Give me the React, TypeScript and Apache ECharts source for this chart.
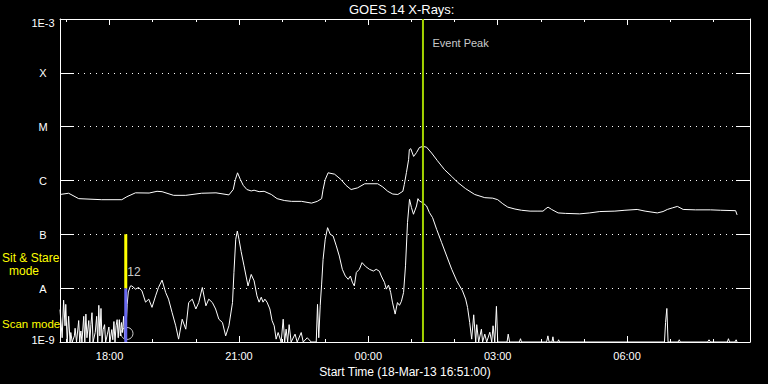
import React, { useEffect, useRef } from "react";
import * as echarts from "echarts";

// Time axis: minutes since the start time 18-Mar-13 16:51:00
const START_MINUTE_OF_DAY = 16 * 60 + 51;
const SPAN_MINUTES = 960;
const majorTickMinutes = [69, 249, 429, 609, 789];
const minorTickMinutes = [9, 69, 129, 189, 249, 309, 369, 429, 489, 549, 609, 669, 729, 789, 849, 909];
const classLabels = ["1E-9", "A", "B", "C", "M", "X", "1E-3"];

// 1-8 Angstrom channel (upper curve), W/m^2
const longTimes = [
  0, 12, 26, 58, 86, 93, 105, 124, 135, 142, 158, 175, 197, 217, 235, 241, 244, 247, 251, 255,
  260, 266, 270, 277, 284, 294, 302, 312, 322, 336, 350, 358, 364, 366, 369, 373, 382, 391, 398, 405,
  414, 424, 442, 449, 456, 463, 470, 477, 479, 482, 485, 486, 488, 492, 496, 500, 505, 510, 517, 525,
  535, 545, 553, 564, 577, 591, 602, 609, 616, 623, 633, 642, 654, 665, 672, 676, 679, 684, 693, 703,
  723, 737, 751, 772, 786, 803, 814, 831, 839, 845, 852, 859, 867, 884, 905, 919, 940, 942,
];
const longFlux = [
  5.5e-7, 5.8e-7, 4.6e-7, 4.4e-7, 4.4e-7, 5.0e-7, 5.9e-7, 5.85e-7, 6.3e-7, 6.2e-7, 5.3e-7, 5.3e-7, 5.8e-7, 5.9e-7, 5.4e-7, 6.8e-7, 1.04e-6, 1.39e-6, 1.04e-6, 8.1e-7,
  6.8e-7, 6.4e-7, 6.6e-7, 6.2e-7, 6.3e-7, 5.5e-7, 4.6e-7, 4.25e-7, 4.1e-7, 4.1e-7, 3.8e-7, 4.1e-7, 4.6e-7, 6.8e-7, 1.04e-6, 1.39e-6, 1.31e-6, 1.04e-6, 8.1e-7, 6.8e-7,
  7.3e-7, 8.7e-7, 8.7e-7, 7.6e-7, 6.3e-7, 5.6e-7, 5.5e-7, 6.3e-7, 8.4e-7, 1.41e-6, 2.44e-6, 3.74e-6, 3.9e-6, 2.8e-6, 3.3e-6, 4.1e-6, 4.3e-6, 4.16e-6, 3.24e-6, 2.34e-6,
  1.59e-6, 1.19e-6, 9.3e-7, 7.1e-7, 5.5e-7, 4.8e-7, 4.7e-7, 4.4e-7, 3.7e-7, 3.2e-7, 2.95e-7, 2.8e-7, 2.7e-7, 2.7e-7, 2.7e-7, 3.0e-7, 3.2e-7, 2.9e-7, 2.5e-7, 2.45e-7,
  2.4e-7, 2.5e-7, 2.65e-7, 2.7e-7, 2.8e-7, 2.9e-7, 2.7e-7, 2.5e-7, 2.65e-7, 2.9e-7, 3.1e-7, 3.3e-7, 2.9e-7, 2.85e-7, 2.85e-7, 2.8e-7, 2.75e-7, 2.3e-7,
];

// 0.5-4 Angstrom channel (lower curve), W/m^2
const shortTimes = [
  0, 3, 5, 7, 8, 10, 12, 14, 15, 17, 20, 21, 23, 26, 27.5, 29, 30.5, 33, 34.5, 36,
  37.5, 40, 41.5, 43, 44.5, 46, 49, 51, 52.5, 54, 55.5, 57, 58.5, 60, 62, 63.5, 66, 68, 69.5, 72,
  73.5, 75, 76.5, 78, 79.5, 81, 82.5, 84, 85.5, 87, 88.5, 90, 92, 93.5, 95, 98, 100, 105, 109.5, 114,
  119, 123.5, 128, 133, 137, 142, 147, 151, 156, 161, 165, 170, 175, 179, 184, 189, 193, 198, 203, 207,
  212, 216.5, 221, 226, 230.5, 235, 240, 242, 244.5, 246.7, 249, 252, 256, 261.6, 266, 270, 274, 277,
  280, 282.5, 285, 288, 292, 295, 298, 300.7, 303.5, 307.7, 310.5, 312.6, 314.6, 316.7, 318.8, 321.6, 327, 330,
  335.6, 338.4, 344, 349.5, 356.5, 358.3, 360, 362, 364, 366, 369, 372.3, 376, 380, 384.4, 388.6, 392.8, 397,
  401, 404, 406.7, 409.5, 412.3, 416.5, 420.3, 425, 430.5, 436, 440, 444.4, 447, 451.4, 454, 457, 460, 462.5,
  466.3, 469.5, 472.3, 475, 478, 480.7, 483.5, 486.3, 489, 491.8, 496, 498, 500, 504.4, 510, 514, 518.4, 524,
  531, 538, 545, 552, 556, 560, 564.4, 567, 570, 572.8, 575.6, 578.4, 579.8, 582.5, 586.3, 588, 591, 593.7,
  598, 600.7, 602.5, 604.9, 607.2, 609, 622, 623.6, 625.5, 639, 640.7, 642, 677, 678.8, 680.5, 684.5, 685.8, 687,
  692.5, 693.7, 695, 841, 842.5, 844.3, 846, 860, 861.6, 863, 901, 903, 905, 928.5, 930, 931.5, 939, 940.7, 942,
];
const shortFlux = [
  4e-9, 1.2e-9, 6e-9, 2e-9, 5e-9, 1e-9, 3e-9, 1e-9, 1.5e-9, 1e-9, 1.3e-9, 1.8e-9, 1e-9, 2.5e-9, 1e-9, 1.6e-9, 1e-9, 3e-9, 1e-9, 3.3e-9,
  1.2e-9, 2.5e-9, 1e-9, 2.1e-9, 3.5e-9, 1e-9, 1.5e-9, 3e-9, 1e-9, 4.8e-9, 1.3e-9, 4.2e-9, 1e-9, 1.7e-9, 2.1e-9, 1e-9, 1.4e-9, 1.9e-9, 1e-9, 1.7e-9,
  1.1e-9, 2.4e-9, 1e-9, 2e-9, 2.6e-9, 1.2e-9, 2.6e-9, 1.3e-9, 2.3e-9, 1.5e-9, 3e-9, 1.2e-9, 2e-9, 5e-9, 8.5e-9, 1.1e-8, 1.1e-8, 9.6e-9, 1.03e-8, 8.9e-9,
  5.5e-9, 6.25e-9, 4.4e-9, 7.2e-9, 1.03e-8, 1.41e-8, 8.3e-9, 6.25e-9, 3.5e-9, 2.0e-9, 1.13e-9, 2.65e-9, 1.73e-9, 5.4e-9, 6.25e-9, 4.1e-9, 5.4e-9, 1.03e-8, 4.7e-9, 6.25e-9,
  5.4e-9, 4.1e-9, 2.65e-9, 2.3e-9, 1.3e-9, 2.0e-9, 5.4e-9, 1.96e-8, 8.1e-8, 1.15e-7, 8.1e-8, 4.8e-8, 2.6e-8, 1.1e-8, 1.8e-8, 1.37e-8, 7.2e-9, 5.5e-9,
  6.8e-9, 5.5e-9, 6.25e-9, 5.5e-9, 4.1e-9, 2.5e-9, 2.0e-9, 1.13e-9, 1.5e-9, 1e-9, 2.65e-9, 1e-9, 1.73e-9, 1e-9, 2.1e-9, 1e-9, 1.4e-9, 1e-9,
  1.5e-9, 1e-9, 1.2e-9, 1e-9, 1e-9, 5e-9, 1.2e-9, 4.7e-9, 1.19e-8, 3.4e-8, 8.1e-8, 1.33e-7, 1.0e-7, 9.3e-8, 6.1e-8, 3.95e-8, 2.24e-8, 1.68e-8,
  1.46e-8, 1.68e-8, 1.29e-8, 1.1e-8, 1.96e-8, 2.24e-8, 2.98e-8, 2.54e-8, 2.24e-8, 2.08e-8, 2.24e-8, 2.06e-8, 1.68e-8, 1.28e-8, 9.6e-9, 1.14e-8, 8.4e-9, 5.5e-9,
  3.3e-9, 5.4e-9, 4.8e-9, 5.7e-9, 8.3e-9, 2.6e-8, 1.65e-7, 4.47e-7, 3.13e-7, 2.36e-7, 3.36e-7, 4.6e-7, 4.16e-7, 3.89e-7, 3.36e-7, 2.53e-7, 2.04e-7, 1.24e-7,
  7.0e-8, 3.95e-8, 2.24e-8, 1.37e-8, 1.1e-8, 8.9e-9, 6.25e-9, 4.4e-9, 2.3e-9, 1.13e-9, 3.2e-9, 1e-9, 2.1e-9, 1e-9, 1.73e-9, 1e-9, 1.4e-9, 1e-9,
  1.52e-9, 1e-9, 2.0e-9, 1e-9, 4.6e-9, 1e-9, 1e-9, 1.4e-9, 1e-9, 1e-9, 1.15e-9, 1e-9, 1e-9, 1.3e-9, 1e-9, 1e-9, 1.25e-9, 1e-9,
  1e-9, 1.1e-9, 1e-9, 1e-9, 2.3e-9, 4.2e-9, 1e-9, 1e-9, 1.1e-9, 1e-9, 1e-9, 1.1e-9, 1e-9, 1e-9, 1.15e-9, 1e-9, 1e-9, 1.1e-9, 1e-9,
];

const eventPeakMinute = 505;
const modeSwitchMinute = 91.5;
const sitStareRange = [1e-8, 1e-7];
const scanRange = [1e-9, 1e-8];

const FONT = '"Liberation Sans", Arial, sans-serif';
const WHITE = "#ffffff";
const YELLOW = "#ffff00";

function fmtTime(m: number): string {
  const total = Math.round(START_MINUTE_OF_DAY + m) % 1440;
  const h = Math.floor(total / 60);
  const mm = total % 60;
  return String(h).padStart(2, "0") + ":" + String(mm).padStart(2, "0");
}

export default function App() {
  const ref = useRef<HTMLDivElement>(null);

  useEffect(() => {
    document.body.style.margin = "0";
    if (!ref.current) return;
    const chart = echarts.init(ref.current, undefined, { renderer: "svg" });

    const longData = longTimes.map((t, i) => [t, longFlux[i]]);
    const shortData = shortTimes.map((t, i) => [t, shortFlux[i]]);

    const baseX = {
      type: "value",
      min: 0,
      max: SPAN_MINUTES,
      gridIndex: 0,
      splitLine: { show: false },
    };

    const option: any = {
      animation: false,
      backgroundColor: "#000000",
      title: {
        text: "GOES 14 X-Rays:",
        left: 349,
        top: 3,
        padding: 0,
        textStyle: { color: WHITE, fontSize: 13, fontWeight: "normal", fontFamily: FONT, lineHeight: 13 },
      },
      grid: { left: 60, right: 18, top: 19, bottom: 42, containLabel: false },
      xAxis: [
        {
          ...baseX,
          position: "bottom",
          axisLine: { show: true, onZero: false, lineStyle: { color: WHITE, width: 1 } },
          axisTick: { show: true, inside: true, length: 6, customValues: majorTickMinutes, lineStyle: { color: WHITE } },
          axisLabel: {
            show: true,
            customValues: majorTickMinutes,
            formatter: (v: number) => fmtTime(v),
            color: WHITE,
            fontSize: 11,
            fontFamily: FONT,
            lineHeight: 11,
            margin: 8,
          },
          name: "Start Time (18-Mar-13 16:51:00)",
          nameLocation: "middle",
          nameGap: 19,
          nameTextStyle: { color: WHITE, fontSize: 12, fontFamily: FONT, lineHeight: 12 },
        },
        {
          ...baseX,
          position: "bottom",
          axisLine: { show: false, onZero: false },
          axisTick: { show: true, inside: true, length: 3, customValues: minorTickMinutes, lineStyle: { color: WHITE } },
          axisLabel: { show: false },
        },
        {
          ...baseX,
          position: "top",
          axisLine: { show: true, onZero: false, lineStyle: { color: WHITE, width: 1 } },
          axisTick: { show: true, inside: true, length: 6, customValues: majorTickMinutes, lineStyle: { color: WHITE } },
          axisLabel: { show: false },
        },
        {
          ...baseX,
          position: "top",
          axisLine: { show: false, onZero: false },
          axisTick: { show: true, inside: true, length: 3, customValues: minorTickMinutes, lineStyle: { color: WHITE } },
          axisLabel: { show: false },
        },
      ],
      yAxis: [
        {
          type: "log",
          logBase: 10,
          min: 1e-9,
          max: 1e-3,
          splitNumber: 6,
          position: "left",
          axisLine: { show: true, onZero: false, lineStyle: { color: WHITE, width: 1 } },
          axisTick: { show: true, inside: true, length: 14, lineStyle: { color: WHITE } },
          splitLine: { show: true, lineStyle: { color: WHITE, width: 1, type: [1, 5] } },
          axisLabel: {
            show: true,
            align: "center",
            margin: 17,
            color: WHITE,
            fontSize: 11,
            fontFamily: FONT,
            formatter: (v: number) => {
              const e = Math.round(Math.log10(v));
              const s = classLabels[e + 9] ?? "";
              if (e === -3) return "{t|" + s + "}";
              if (e === -9) return "{b|" + s + "}";
              return "{m|" + s + "}";
            },
            rich: {
              t: { color: WHITE, fontSize: 11, fontFamily: FONT, padding: [8, 0, 0, 0] },
              b: { color: WHITE, fontSize: 11, fontFamily: FONT, padding: [0, 0, 5, 0] },
              m: { color: WHITE, fontSize: 11, fontFamily: FONT, padding: [1, 0, 0, 0] },
            },
          },
        },
        {
          type: "log",
          logBase: 10,
          min: 1e-9,
          max: 1e-3,
          splitNumber: 6,
          position: "right",
          axisLine: { show: true, onZero: false, lineStyle: { color: WHITE, width: 1 } },
          axisTick: { show: true, inside: true, length: 14, lineStyle: { color: WHITE } },
          splitLine: { show: false },
          axisLabel: { show: false },
        },
      ],
      series: [
        {
          name: "1-8 A",
          type: "line",
          data: longData,
          symbol: "none",
          lineStyle: { color: WHITE, width: 1 },
          silent: true,
          clip: true,
        },
        {
          name: "0.5-4 A",
          type: "line",
          data: shortData,
          symbol: "none",
          lineStyle: { color: WHITE, width: 1 },
          silent: true,
          clip: true,
        },
        {
          name: "Scan mode",
          type: "line",
          data: [
            [modeSwitchMinute, scanRange[0]],
            [modeSwitchMinute, scanRange[1]],
          ],
          symbol: "none",
          lineStyle: { color: "#6a6af0", width: 3 },
          silent: true,
        },
        {
          name: "Sit & Stare",
          type: "line",
          data: [
            [modeSwitchMinute, sitStareRange[0]],
            [modeSwitchMinute, sitStareRange[1]],
          ],
          symbol: "none",
          lineStyle: { color: YELLOW, width: 3 },
          silent: true,
        },
        {
          name: "Mode markers",
          type: "scatter",
          silent: true,
          data: [
            {
              value: [93.2, 1.44e-9],
              symbol: "circle",
              symbolSize: 12,
              itemStyle: { color: "rgba(0,0,0,0)", borderColor: WHITE, borderWidth: 1 },
            },
            {
              value: [103, 2.0e-8],
              symbolSize: 1,
              itemStyle: { color: "rgba(0,0,0,0)" },
              label: { show: true, position: "inside", formatter: "12", color: WHITE, fontSize: 12, fontFamily: FONT },
            },
          ],
        },
        {
          name: "Event Peak",
          type: "line",
          data: [
            [eventPeakMinute, 1e-9],
            [eventPeakMinute, 1e-3],
          ],
          symbol: "none",
          lineStyle: { color: "#a2d200", width: 2 },
          silent: true,
        },
        {
          name: "Event Peak label",
          type: "scatter",
          silent: true,
          data: [
            {
              value: [eventPeakMinute, 3.6e-4],
              symbolSize: 1,
              itemStyle: { color: "rgba(0,0,0,0)" },
              label: { show: true, position: "right", distance: 9, formatter: "Event Peak", color: WHITE, fontSize: 11, fontFamily: FONT },
            },
          ],
        },
      ],
      graphic: [
        {
          type: "text",
          x: 2,
          y: 257.5,
          silent: true,
          style: { text: "Sit & Stare", fill: YELLOW, font: "12px " + FONT, textVerticalAlign: "middle", verticalAlign: "middle" },
        },
        {
          type: "text",
          x: 24,
          y: 271,
          silent: true,
          style: { text: "mode", fill: YELLOW, font: "12px " + FONT, textAlign: "center", align: "center", textVerticalAlign: "middle", verticalAlign: "middle" },
        },
        {
          type: "text",
          x: 2,
          y: 323.5,
          silent: true,
          style: { text: "Scan mode", fill: YELLOW, font: "11.5px " + FONT, textVerticalAlign: "middle", verticalAlign: "middle" },
        },
      ],
    };

    chart.setOption(option);
    return () => chart.dispose();
  }, []);

  return (
    <div
      ref={ref}
      style={{ position: "absolute", left: 0, top: 0, width: 768, height: 384, background: "#000" }}
    />
  );
}
